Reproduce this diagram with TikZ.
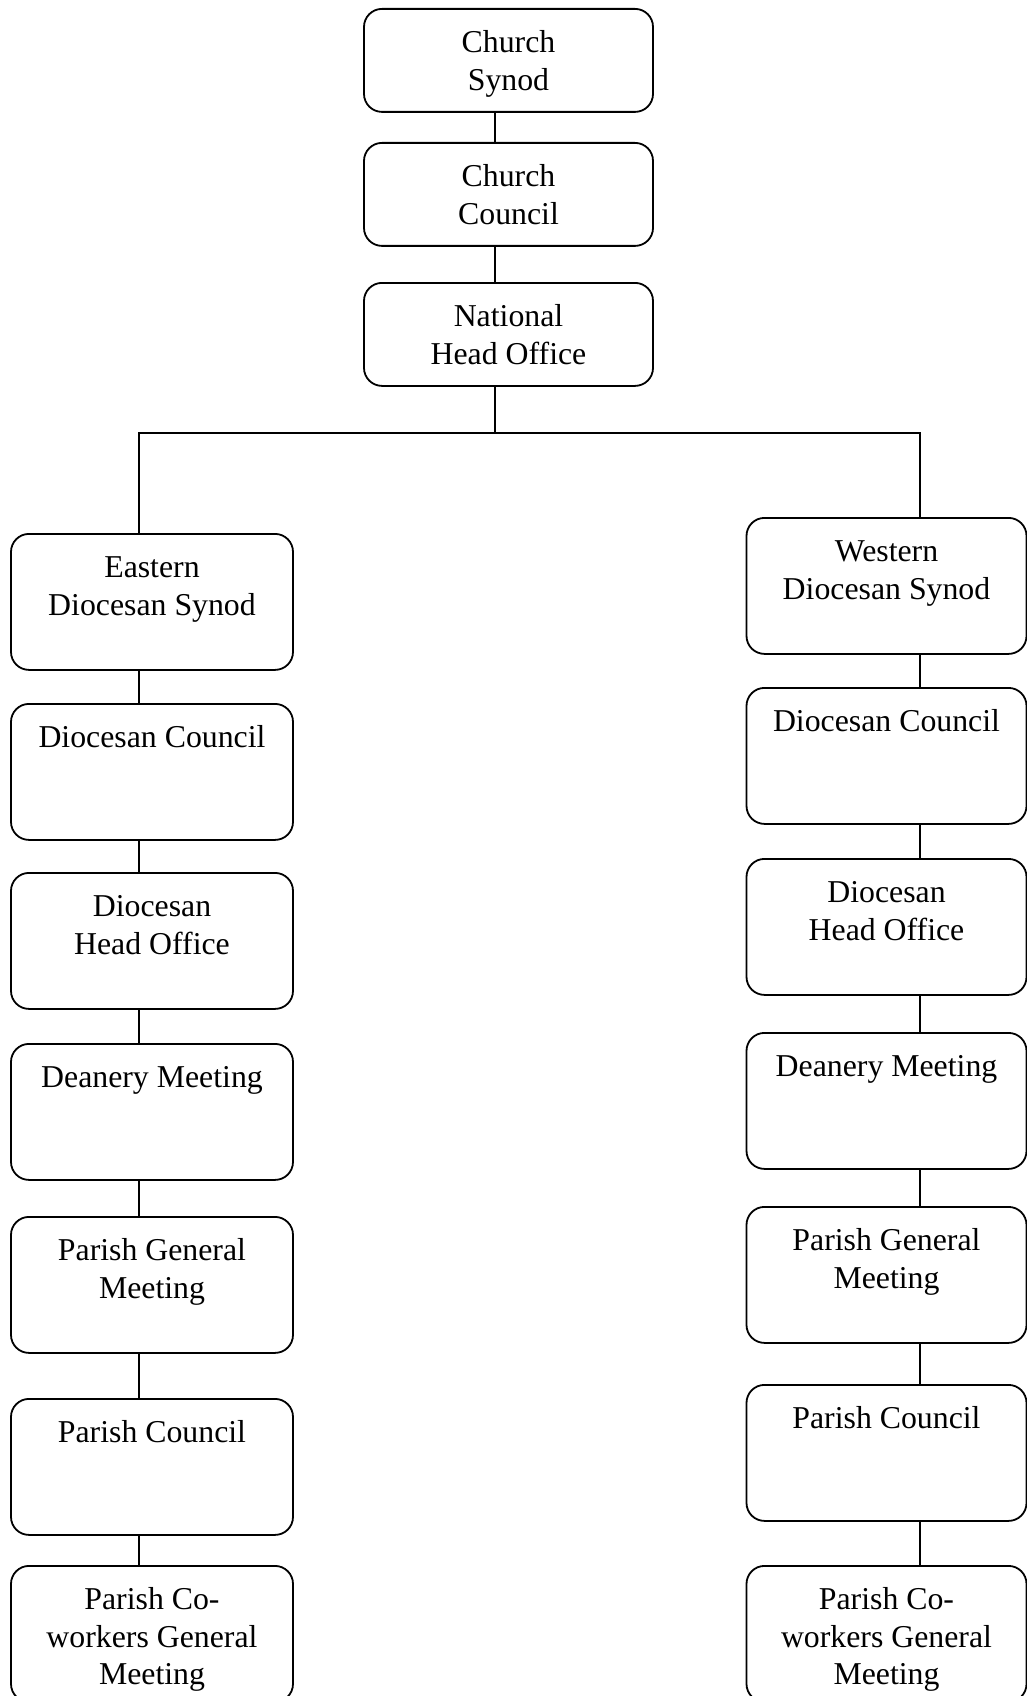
\documentclass[tikz,border=0pt]{standalone}
\usepackage{fontspec}
\setmainfont{Liberation Serif}

\newcommand{\unittext}[2]{\parbox[c][#1][t]{270pt}{\centering\strut #2}}

\tikzset{
    orgbox/.style={draw=black, line width=1.8pt, rounded corners=18pt, inner sep=0pt,
        anchor=north, font=\fontsize{31.8}{37.5}\selectfont},
    nationbox/.style={orgbox, minimum width=289pt, minimum height=103pt},
    diocbox/.style={orgbox, minimum width=282pt, minimum height=136pt},
    link/.style={draw=black, line width=1.8pt}
}

\begin{document}
\begin{tikzpicture}[x=1pt,y=-1pt]
    \useasboundingbox (0,0) rectangle (1027,1696);

    % national level
    \node[nationbox] (synod) at (508.5,8) {\unittext{67.5pt}{Church\\Synod}};
    \node[nationbox] (council) at (508.5,142) {\unittext{67.5pt}{Church\\Council}};
    \node[nationbox] (office) at (508.5,282) {\unittext{67.5pt}{National\\Head Office}};

    % eastern diocese
    \node[diocbox] (esynod) at (152,533) {\unittext{100.5pt}{Eastern\\Diocesan Synod}};
    \node[diocbox] (ecouncil) at (152,703) {\unittext{100.5pt}{Diocesan Council}};
    \node[diocbox] (eoffice) at (152,872) {\unittext{100.5pt}{Diocesan\\Head Office}};
    \node[diocbox] (edeanery) at (152,1043) {\unittext{100.5pt}{Deanery Meeting}};
    \node[diocbox] (egeneral) at (152,1216) {\unittext{100.5pt}{Parish General\\Meeting}};
    \node[diocbox] (eparish) at (152,1398) {\unittext{100.5pt}{Parish Council}};
    \node[diocbox] (eworkers) at (152,1565) {\unittext{100.5pt}{Parish Co-\\workers General\\Meeting}};

    % western diocese
    \node[diocbox, minimum width=280pt] (wsynod) at (886.5,517) {\unittext{100.5pt}{Western\\Diocesan Synod}};
    \node[diocbox, minimum width=280pt] (wcouncil) at (886.5,687) {\unittext{100.5pt}{Diocesan Council}};
    \node[diocbox, minimum width=280pt] (woffice) at (886.5,858) {\unittext{100.5pt}{Diocesan\\Head Office}};
    \node[diocbox, minimum width=280pt] (wdeanery) at (886.5,1032) {\unittext{100.5pt}{Deanery Meeting}};
    \node[diocbox, minimum width=280pt] (wgeneral) at (886.5,1206) {\unittext{100.5pt}{Parish General\\Meeting}};
    \node[diocbox, minimum width=280pt] (wparish) at (886.5,1384) {\unittext{100.5pt}{Parish Council}};
    \node[diocbox, minimum width=280pt] (wworkers) at (886.5,1565) {\unittext{100.5pt}{Parish Co-\\workers General\\Meeting}};

    % where the lines run
    \coordinate (trunk) at (495,0);
    \coordinate (eline) at (139,0);
    \coordinate (wline) at (920,0);
    \coordinate (bar) at (0,433);

    \draw[link] (synod.south -| trunk) -- (council.north -| trunk);
    \draw[link] (council.south -| trunk) -- (office.north -| trunk);
    \draw[link] (office.south -| trunk) -- (trunk |- bar);
    \draw[link] (esynod.north -| eline) -- (eline |- bar) -- (wline |- bar) -- (wsynod.north -| wline);

    \draw[link] (esynod.south -| eline) -- (ecouncil.north -| eline);
    \draw[link] (ecouncil.south -| eline) -- (eoffice.north -| eline);
    \draw[link] (eoffice.south -| eline) -- (edeanery.north -| eline);
    \draw[link] (edeanery.south -| eline) -- (egeneral.north -| eline);
    \draw[link] (egeneral.south -| eline) -- (eparish.north -| eline);
    \draw[link] (eparish.south -| eline) -- (eworkers.north -| eline);

    \draw[link] (wsynod.south -| wline) -- (wcouncil.north -| wline);
    \draw[link] (wcouncil.south -| wline) -- (woffice.north -| wline);
    \draw[link] (woffice.south -| wline) -- (wdeanery.north -| wline);
    \draw[link] (wdeanery.south -| wline) -- (wgeneral.north -| wline);
    \draw[link] (wgeneral.south -| wline) -- (wparish.north -| wline);
    \draw[link] (wparish.south -| wline) -- (wworkers.north -| wline);
\end{tikzpicture}
\end{document}
